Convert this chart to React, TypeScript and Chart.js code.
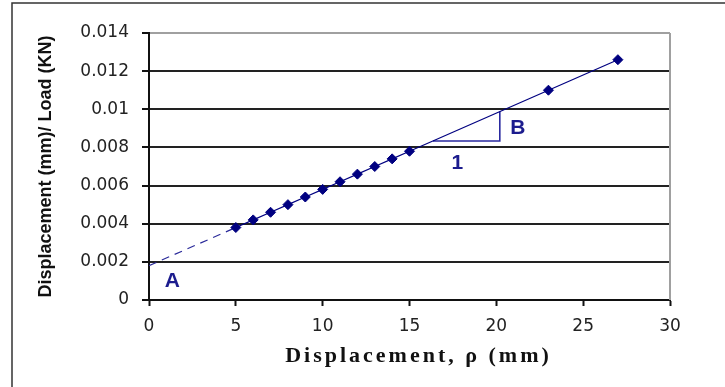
import React, { useEffect, useRef } from "react";
import { Chart, registerables } from "chart.js";

Chart.register(...registerables);

// Measured points: displacement (mm) vs displacement/load (mm/KN)
const displacement = [5, 6, 7, 8, 9, 10, 11, 12, 13, 14, 15, 23, 27];
const ratio = [0.0038, 0.0042, 0.0046, 0.005, 0.0054, 0.0058, 0.0062, 0.0066, 0.007, 0.0074, 0.0078, 0.011, 0.0126];

// Dashed extrapolation of the fitted line back to the intercept A
const trendX = [0, 5];
const trendY = [0.0018, 0.0038];

// Slope triangle (run "1", rise "B")
const triangleX = [16.35, 20.2, 20.2];
const triangleY = [0.00834, 0.00834, 0.00988];

// Annotation labels and their anchor positions (data units)
const annotationText = ["A", "B", "1"];
const annotationX = [1.35, 21.24, 17.76];
const annotationY = [0.001, 0.00899, 0.00718];

const xTicks = [0, 5, 10, 15, 20, 25, 30];
const xTickLabels = ["0", "5", "10", "15", "20", "25", "30"];
const yTicks = [0, 0.002, 0.004, 0.006, 0.008, 0.01, 0.012, 0.014];
const yTickLabels = ["0", "0.002", "0.004", "0.006", "0.008", "0.01", "0.012", "0.014"];

const xTitle = "Displacement, \u03C1 (mm)";
const yTitle = "Displacement (mm)/ Load (KN)";

const NAVY = "#000080";
const LABEL_BLUE = "#1c1c8e";

const decorPlugin = {
  id: "decor",
  beforeDraw(chart: any) {
    const { ctx, width, height } = chart;
    ctx.save();
    ctx.fillStyle = "#ffffff";
    ctx.fillRect(0, 0, width, height);
    ctx.strokeStyle = "#333333";
    ctx.lineWidth = 1.5;
    ctx.beginPath();
    ctx.moveTo(12, height);
    ctx.lineTo(12, 3);
    ctx.lineTo(width, 3);
    ctx.stroke();
    ctx.restore();
  },
  afterDraw(chart: any) {
    const { ctx, chartArea, scales } = chart;
    const xs = scales.x;
    const ys = scales.y;
    ctx.save();
    // right frame of the plot area
    ctx.strokeStyle = "#a0a0a0";
    ctx.lineWidth = 2;
    ctx.beginPath();
    ctx.moveTo(chartArea.right, chartArea.top);
    ctx.lineTo(chartArea.right, chartArea.bottom);
    ctx.stroke();

    // annotation letters
    ctx.fillStyle = LABEL_BLUE;
    ctx.font = "bold 21px Arial, 'Liberation Sans', sans-serif";
    ctx.textAlign = "center";
    ctx.textBaseline = "middle";
    annotationText.forEach((t, i) => {
      ctx.fillText(t, xs.getPixelForValue(annotationX[i]), ys.getPixelForValue(annotationY[i]));
    });

    // x axis title with wide letter spacing (serif bold)
    ctx.fillStyle = "#111111";
    ctx.font = "bold 22px 'Liberation Serif', 'Times New Roman', serif";
    (ctx as any).letterSpacing = "3px";
    ctx.textAlign = "center";
    ctx.textBaseline = "middle";
    ctx.fillText(xTitle, (chartArea.left + chartArea.right) / 2 + 9, 356);
    (ctx as any).letterSpacing = "0px";
    ctx.restore();
  },
};

export default function App() {
  const canvasRef = useRef<HTMLCanvasElement | null>(null);

  useEffect(() => {
    const canvas = canvasRef.current;
    if (!canvas) return;
    const tickFont = { family: "'DejaVu Sans', sans-serif", size: 17 };
    const chart = new Chart(canvas, {
      type: "scatter",
      data: {
        datasets: [
          {
            label: "Measured",
            data: displacement.map((x, i) => ({ x, y: ratio[i] })),
            showLine: true,
            borderColor: NAVY,
            borderWidth: 1.2,
            backgroundColor: NAVY,
            pointStyle: "rectRot",
            pointRadius: 5,
            pointBorderWidth: 1,
            pointBorderColor: NAVY,
            pointBackgroundColor: NAVY,
            order: 0,
          },
          {
            label: "Trend",
            data: trendX.map((x, i) => ({ x, y: trendY[i] })),
            showLine: true,
            borderColor: "#2a2a9a",
            borderWidth: 1.2,
            borderDash: [8, 6],
            pointRadius: 0,
            order: 1,
          },
          {
            label: "Slope",
            data: triangleX.map((x, i) => ({ x, y: triangleY[i] })),
            showLine: true,
            borderColor: "#2a2aa0",
            borderWidth: 1.6,
            pointRadius: 0,
            order: 2,
          },
        ],
      },
      options: {
        responsive: false,
        animation: false,
        events: [],
        layout: { padding: { left: 0, top: 33, right: 55, bottom: 0 } },
        plugins: {
          legend: { display: false },
          tooltip: { enabled: false },
        },
        scales: {
          x: {
            type: "linear",
            min: 0,
            max: 30,
            afterBuildTicks: (scale: any) => {
              scale.ticks = xTicks.map((v) => ({ value: v }));
            },
            afterFit: (scale: any) => {
              scale.height = 87;
            },
            ticks: {
              color: "#222222",
              font: tickFont,
              padding: 10,
              maxRotation: 0,
              callback: (_v: any, i: number) => xTickLabels[i],
            },
            grid: {
              drawOnChartArea: false,
              drawTicks: true,
              tickLength: 6,
              tickColor: "#111111",
              tickWidth: 2,
            },
            border: { display: true, color: "#111111", width: 2 },
            title: { display: false },
          },
          y: {
            type: "linear",
            min: 0,
            max: 0.014,
            afterBuildTicks: (scale: any) => {
              scale.ticks = yTicks.map((v) => ({ value: v }));
            },
            afterFit: (scale: any) => {
              scale.width = 149;
            },
            ticks: {
              color: "#222222",
              font: tickFont,
              padding: 13,
              callback: (_v: any, i: number) => yTickLabels[i],
            },
            grid: {
              color: (c: any) => (c.tick && c.tick.value >= 0.0139 ? "#a0a0a0" : "#222222"),
              lineWidth: 2,
              drawTicks: true,
              tickLength: 7,
              tickColor: "#111111",
              tickWidth: 2,
            },
            border: { display: true, color: "#111111", width: 2 },
            title: {
              display: true,
              text: yTitle,
              color: "#111111",
              font: { family: "Arial, 'Liberation Sans', sans-serif", size: 18, weight: "bold", lineHeight: 1.2 },
              padding: { top: 35, bottom: 0 },
            },
          },
        },
      },
      plugins: [decorPlugin],
    } as any);
    return () => chart.destroy();
  }, []);

  return (
    <div style={{ position: "absolute", left: 0, top: 0, width: 725, height: 387, background: "#fff" }}>
      <canvas ref={canvasRef} width={725} height={387} style={{ display: "block", width: 725, height: 387 }} />
    </div>
  );
}
